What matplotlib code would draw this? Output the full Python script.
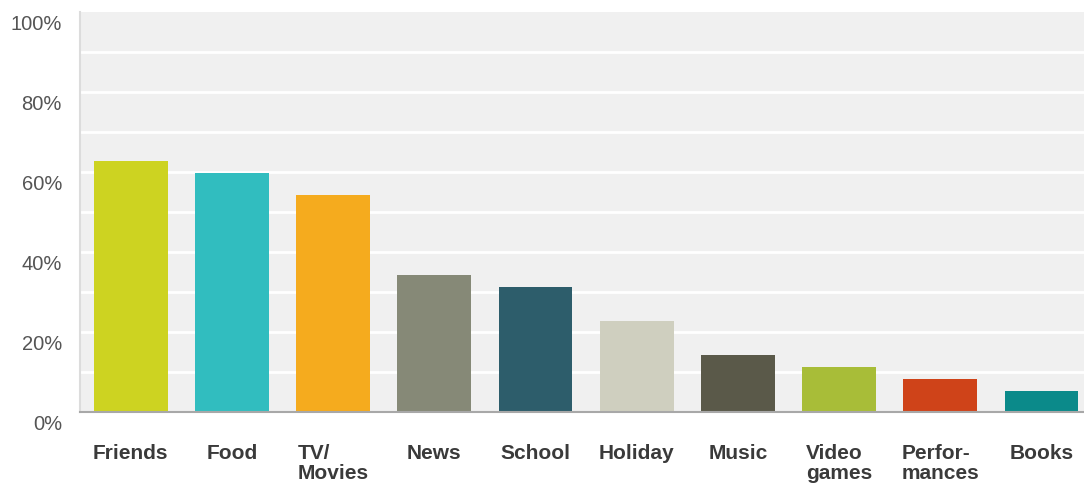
import matplotlib.pyplot as plt
import matplotlib.transforms as mtransforms

# data
categories = ['Friends', 'Food', 'TV/\nMovies', 'News', 'School', 'Holiday',
              'Music', 'Video\ngames', 'Perfor-\nmances', 'Books']
values = [62.75, 59.75, 54.25, 34.25, 31.25, 22.75, 14.25, 11.25, 8.25, 5.25]
colors = ['#cdd321', '#31bdbf', '#f5ab1e', '#868977', '#2d5d6b', '#cfcfbf',
          '#5a5949', '#a8bd38', '#cf4319', '#0b8a8a']
ytick_vals = [0, 20, 40, 60, 80, 100]
ytick_labels = ['0%', '20%', '40%', '60%', '80%', '100%']

plt.rcParams['font.family'] = ['Liberation Sans', 'DejaVu Sans']

fig = plt.figure(figsize=(10.84, 4.87), dpi=100)
ax = fig.add_axes([80 / 1084, 1 - 412 / 487, 1 - 80 / 1084, 400 / 487])
ax.set_facecolor('#f0f0f0')

# white gridlines every 10%
for g in range(10, 100, 10):
    ax.axhline(g, color='white', lw=2, zorder=1)

x = range(len(values))
ax.bar(x, values, width=0.73, color=colors, zorder=2)

ax.set_xlim(-0.5, 9.42)
ax.set_ylim(0, 100)

ax.set_yticks(ytick_vals)
ax.set_yticklabels(ytick_labels, fontsize=14.5, color='#555555')
ax.tick_params(axis='y', length=0, pad=13)
offset = mtransforms.ScaledTranslation(0, -10 / 100, fig.dpi_scale_trans)
for lbl in ax.get_yticklabels():
    lbl.set_transform(lbl.get_transform() + offset)

ax.set_xticks(list(x))
ax.set_xticklabels(categories, fontsize=15, fontweight='bold', color='#3a3a3a',
                   multialignment='left', linespacing=1.05)
ax.tick_params(axis='x', length=0, pad=23)

for side in ['top', 'right']:
    ax.spines[side].set_visible(False)
ax.spines['left'].set_color('#dcdcdc')
ax.spines['left'].set_linewidth(1.5)
ax.spines['bottom'].set_color('#a8a8a8')
ax.spines['bottom'].set_linewidth(1.5)
ax.spines['left'].set_zorder(3)
ax.spines['bottom'].set_zorder(3)

fig.savefig('out.png', dpi=100)
